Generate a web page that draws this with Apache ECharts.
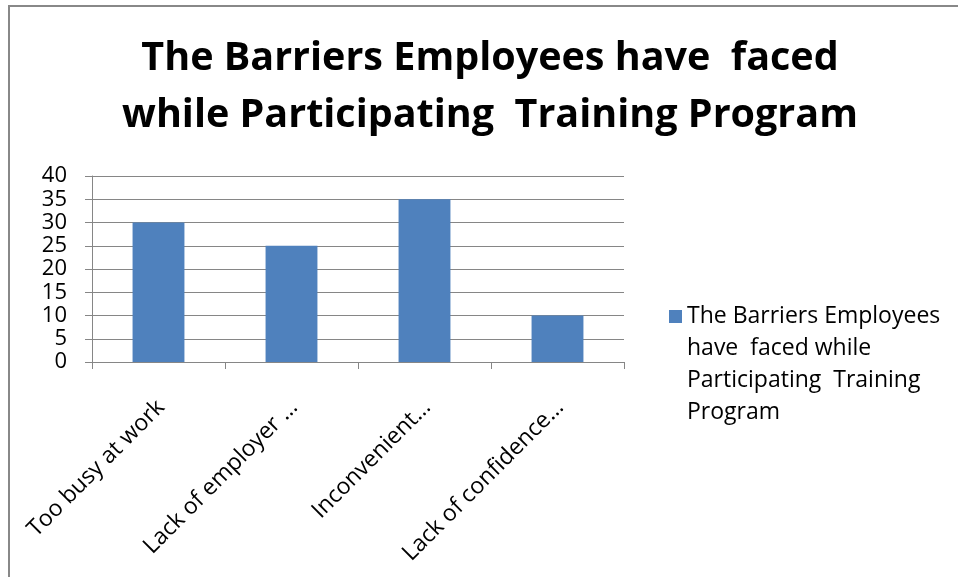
<!DOCTYPE html>
<html>
<head>
<meta charset="utf-8">
<script src="https://cdn.jsdelivr.net/npm/echarts@6/dist/echarts.min.js"></script>
<style>
html,body{margin:0;padding:0;background:#fff;}
#chart{width:958px;height:577px;}
</style>
</head>
<body>
<div id="chart"></div>
<script>
const titleText = 'The Barriers Employees have  faced\nwhile Participating  Training Program';
const seriesName = 'The Barriers Employees have  faced while Participating  Training Program';
const legendLines = ['The Barriers Employees', 'have  faced while', 'Participating  Training', 'Program'];
const categories = ['Too busy at work', 'Lack of employer …', 'Inconvenient…', 'Lack of confidence…'];
const values = [30, 25, 35, 10];
const yMin = 0, yMax = 40, yInterval = 5;

const font = '"Open Sans", sans-serif';
const chart = echarts.init(document.getElementById('chart'));
chart.setOption({
  animation: false,
  backgroundColor: '#fff',
  title: {
    text: titleText,
    left: 485,
    top: 25,
    textAlign: 'center',
    textStyle: { fontFamily: font, fontWeight: 'bold', fontSize: 39.5, lineHeight: 57, color: '#000' }
  },
  grid: { left: 92, right: 334, top: 176, bottom: 215, containLabel: false },
  legend: {
    left: 664, top: 295,
    orient: 'vertical',
    itemWidth: 13, itemHeight: 128,
    icon: 'path://M0,0L0.01,0L0,0.01Z M0,10H13V23H0Z M13,128L12.99,128L13,127.99Z',
    data: [seriesName],
    formatter: () => legendLines.join('\n'),
    textStyle: { fontFamily: font, fontSize: 23, lineHeight: 32, color: '#000' }
  },
  xAxis: {
    type: 'category',
    data: categories,
    axisLine: { lineStyle: { color: '#868686', width: 1 } },
    axisTick: { show: true, length: 7, alignWithLabel: false, lineStyle: { color: '#868686' } },
    axisLabel: { rotate: 45, interval: 0, fontFamily: font, fontSize: 23, color: '#000', margin: 28, verticalAlign: 'top', padding: [0, 8, 0, 0] }
  },
  yAxis: {
    type: 'value',
    min: yMin, max: yMax, interval: yInterval,
    axisLine: { show: true, lineStyle: { color: '#868686', width: 1 } },
    axisTick: { show: true, length: 7, lineStyle: { color: '#868686' } },
    splitLine: { lineStyle: { color: '#868686', width: 1 } },
    axisLabel: { fontFamily: font, fontSize: 22, color: '#000', margin: 25 }
  },
  series: [{
    name: seriesName,
    type: 'bar',
    data: values,
    barWidth: '39%',
    itemStyle: { color: '#4F81BD' }
  }],
  graphic: [
    { type: 'line', shape: { x1: 8, y1: 6, x2: 958, y2: 6 }, style: { stroke: '#888', lineWidth: 2 } },
    { type: 'line', shape: { x1: 9, y1: 5, x2: 9, y2: 577 }, style: { stroke: '#888', lineWidth: 2 } }
  ]
});
</script>
</body>
</html>
